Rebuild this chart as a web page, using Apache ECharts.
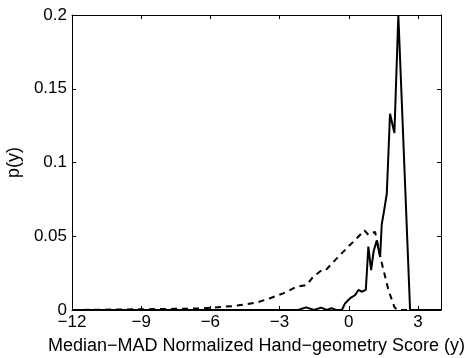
<!DOCTYPE html>
<html>
<head>
<meta charset="utf-8">
<script src="https://cdn.jsdelivr.net/npm/echarts@6/dist/echarts.min.js"></script>
<style>
  html, body { margin: 0; padding: 0; background: #fff; }
  #chart { width: 471px; height: 358px; }
</style>
</head>
<body>
<div id="chart"></div>
<script>
// genuine score distribution (solid)
const solidX = [-12, -2.2, -1.85, -1.5, -1.2, -0.95, -0.75, -0.55, -0.3, -0.16, 0.06, 0.27, 0.42, 0.56, 0.74, 0.85, 0.97, 1.08, 1.21, 1.36, 1.43, 1.55, 1.65, 1.79, 1.98, 2.15, 2.66, 4];
const solidY = [0, 0, 0.0018, 0, 0.0016, 0, 0.0012, 0, 0, 0.0045, 0.008, 0.010, 0.0136, 0.0124, 0.0136, 0.043, 0.027, 0.040, 0.047, 0.036, 0.058, 0.069, 0.079, 0.133, 0.120, 0.200, 0, 0];

// impostor score distribution (dashed)
const dashX = [-12, -9, -7.5, -6.45, -5.0, -4.0, -3.41, -2.84, -2.26, -1.82, -1.54, -1.17, -1.0, -0.52, -0.02, 0.35, 0.68, 0.85, 1.14, 1.43, 1.72, 1.98, 2.1, 4];
const dashY = [0, 0.0005, 0.0008, 0.001, 0.0027, 0.005, 0.008, 0.0113, 0.0158, 0.017, 0.0226, 0.027, 0.027, 0.035, 0.043, 0.0486, 0.054, 0.051, 0.053, 0.032, 0.0136, 0.002, 0, 0];

const xTitle = "Median\u2212MAD Normalized Hand\u2212geometry Score (y)";
const yTitle = "p(y)";

const chart = echarts.init(document.getElementById("chart"), null, { renderer: "canvas" });

const font = "Liberation Sans, Arial, sans-serif";
const axisLine = { show: true, onZero: false, lineStyle: { color: "#000", width: 1 } };
const tick = { show: true, inside: true, length: 4, lineStyle: { color: "#000" } };

const zip = (xs, ys) => xs.map((x, i) => [x, ys[i]]);

chart.setOption({
	animation: false,
	backgroundColor: "#fff",
	grid: { left: 72, right: 30, top: 15, bottom: 48, containLabel: false, outerBoundsMode: "none" },
	xAxis: [
		{
			type: "value",
			min: -12,
			max: 4,
			interval: 3,
			name: xTitle,
			nameLocation: "middle",
			nameGap: 27,
			nameTextStyle: { color: "#000", fontSize: 18, fontFamily: font },
			axisLine,
			axisTick: tick,
			splitLine: { show: false },
			axisLabel: {
				color: "#000",
				fontSize: 17,
				fontFamily: font,
				margin: 4,
				showMaxLabel: false,
				formatter: (v) => String(v).replace("-", "\u2212"),
			},
		},
		{
			type: "value",
			position: "top",
			min: -12,
			max: 4,
			interval: 3,
			axisLine,
			axisTick: tick,
			axisLabel: { show: false },
			splitLine: { show: false },
		},
	],
	yAxis: [
		{
			type: "value",
			min: 0,
			max: 0.2,
			interval: 0.05,
			name: yTitle,
			nameLocation: "middle",
			nameGap: 46,
			nameTextStyle: { color: "#000", fontSize: 18, fontFamily: font },
			axisLine,
			axisTick: tick,
			splitLine: { show: false },
			axisLabel: { color: "#000", fontSize: 17, fontFamily: font, margin: 5 },
		},
		{
			type: "value",
			position: "right",
			min: 0,
			max: 0.2,
			interval: 0.05,
			axisLine,
			axisTick: tick,
			axisLabel: { show: false },
			splitLine: { show: false },
		},
	],
	series: [
		{
			type: "line",
			data: zip(dashX, dashY),
			showSymbol: false,
			lineStyle: { color: "#000", width: 2, type: [6, 5] },
			z: 2,
		},
		{
			type: "line",
			data: zip(solidX, solidY),
			showSymbol: false,
			lineStyle: { color: "#000", width: 2 },
			z: 3,
		},
	],
});
</script>
</body>
</html>
